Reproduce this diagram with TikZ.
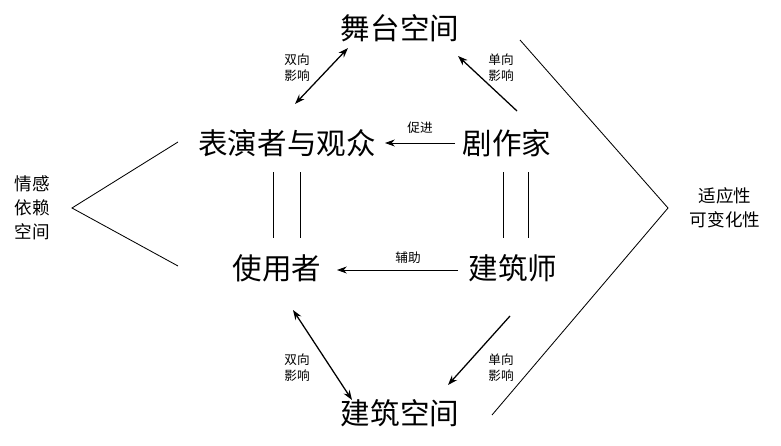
\documentclass[tikz,border=0pt]{standalone}
\usepackage{fontspec}
\newfontfamily\cjk{Noto Sans CJK SC}
\usetikzlibrary{arrows.meta}
\begin{document}
\begin{tikzpicture}[x=0.025cm,y=-0.025cm,
 big/.style={font=\cjk\fontsize{21}{23}\selectfont,inner sep=0},
 small/.style={font=\cjk\fontsize{9}{11.5}\selectfont,align=center,inner sep=0},
 side/.style={font=\cjk\fontsize{12.5}{17}\selectfont,align=center,inner sep=0},
 ln/.style={line width=0.6pt},
 ar/.style={line width=0.9pt,-{Stealth[length=7pt,width=5pt]}},
 dar/.style={line width=0.9pt,{Stealth[length=7pt,width=5pt]}-{Stealth[length=7pt,width=5pt]}}]
\useasboundingbox (0,0) rectangle (781,446);
\node[big] (stage) at (400,28) {舞台空间};
\node[big] (perf) at (287,143) {表演者与观众};
\node[big] (play) at (507,143) {剧作家};
\node[big] (user) at (277,268) {使用者};
\node[big] (arch) at (513,268) {建筑师};
\node[big] (space) at (400,413) {建筑空间};
\node[side] (emo) at (32,208) {情感\\依赖\\空间};
\node[side] (adp) at (725,208) {适应性\\可变化性};
\node[small] (l1) at (297,68) {双向\\影响};
\node[small] (l2) at (501,68) {单向\\影响};
\node[small] (l3) at (420,128) {促进};
\node[small] (l4) at (408,258) {辅助};
\node[small] (l5) at (297,368) {双向\\影响};
\node[small] (l6) at (501,368) {单向\\影响};
\coordinate (a1) at (348,48); \coordinate (a2) at (295,104);
\draw[dar] (a1) -- (a2);
\coordinate (b1) at (517,111); \coordinate (b2) at (458,56);
\draw[ar] (b1) -- (b2);
\coordinate (c1) at (455,143); \coordinate (c2) at (385,143);
\draw[ar,line width=0.6pt] (c1) -- (c2);
\coordinate (d1) at (458,270); \coordinate (d2) at (337,270);
\draw[ar,line width=0.6pt] (d1) -- (d2);
\coordinate (e1) at (293,310); \coordinate (e2) at (352,400);
\draw[dar] (e1) -- (e2);
\coordinate (f1) at (510,316); \coordinate (f2) at (448,385);
\draw[ar] (f1) -- (f2);
\foreach \x in {273,300,503,528}{\draw[ln] (\x,172) -- (\x,238);}
\coordinate (g1) at (178,142); \coordinate (g2) at (72,208); \coordinate (g3) at (178,266);
\draw[ln] (g1) -- (g2) -- (g3);
\coordinate (h1) at (520,40); \coordinate (h2) at (668,208); \coordinate (h3) at (492,415);
\draw[ln] (h1) -- (h2) -- (h3);
\end{tikzpicture}
\end{document}
